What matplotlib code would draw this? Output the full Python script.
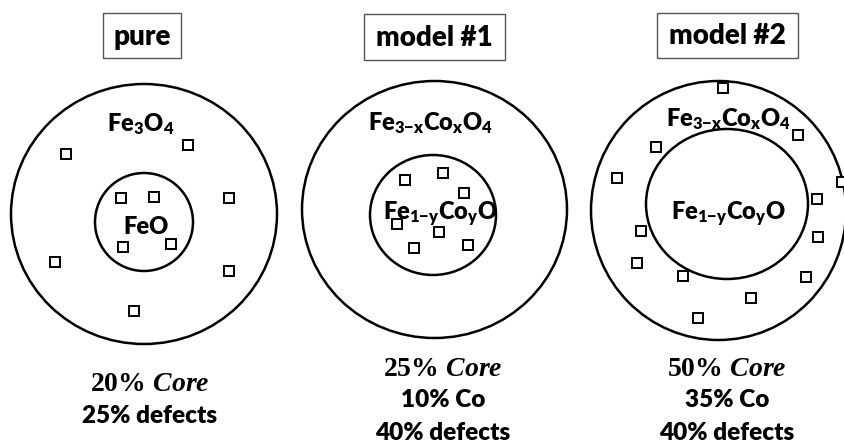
import matplotlib
matplotlib.use("Agg")
import matplotlib.pyplot as plt
from matplotlib.patches import Ellipse, Rectangle

plt.rcParams['font.family'] = ['Lato', 'DejaVu Sans']
plt.rcParams['mathtext.default'] = 'regular'
plt.rcParams['mathtext.fontset'] = 'custom'
plt.rcParams['mathtext.bf'] = 'Liberation Serif:bold'
plt.rcParams['mathtext.it'] = 'Liberation Serif:italic:bold'

# panel data
titles = ["pure", "model #1", "model #2"]
shell_labels = [r"Fe$_3$O$_4$", r"Fe$_{3{-}x}$Co$_x$O$_4$", r"Fe$_{3{-}x}$Co$_x$O$_4$"]
core_labels = ["FeO", r"Fe$_{1{-}y}$Co$_y$O", r"Fe$_{1{-}y}$Co$_y$O"]
core_pct = [20, 25, 50]
co_pct = [None, 10, 35]
defect_pct = [25, 40, 40]

# geometry in pixel coords (x, y from top)
title_boxes = [(103, 13, 78, 45), (364, 14, 141, 46), (657, 13, 141, 45)]
outer = [(144, 214, 133, 130), (434.5, 209.5, 132.5, 128.5), (718.5, 210.5, 127.5, 129.5)]
inner = [(144, 222, 49, 49), (433, 215, 63, 60), (727, 204, 81, 75)]
shell_pos = [(141, 124), (430, 123), (728, 119)]
core_pos = [(146, 227), (440, 214), (728, 214)]
text_x = [150, 443, 727]

defects_x = [
    [66, 188, 121, 154, 229, 123, 171, 55, 229, 134],
    [405, 443, 464, 397, 439, 414, 468],
    [723, 798, 656, 617, 842, 817, 641, 818, 637, 806, 683, 751, 698],
]
defects_y = [
    [154, 145, 198, 197, 198, 247, 244, 262, 271, 311],
    [180, 173, 193, 224, 232, 248, 245],
    [88, 135, 147, 178, 182, 199, 231, 237, 263, 277, 276, 298, 318],
]

fig = plt.figure(figsize=(8.45, 4.44), dpi=100)
ax = fig.add_axes([0, 0, 1, 1])
ax.set_xlim(0, 845)
ax.set_ylim(444, 0)
ax.axis('off')

for i in range(3):
    bx, by, bw, bh = title_boxes[i]
    ax.add_patch(Rectangle((bx, by), bw, bh, fill=False, ec='#555555', lw=1.0))
    ax.text(bx + bw / 2, by + bh / 2 + 1, titles[i], ha='center', va='center',
            fontsize=20, fontweight='heavy')

    cx, cy, rx, ry = outer[i]
    ax.add_patch(Ellipse((cx, cy), 2 * rx, 2 * ry, fill=False, ec='black', lw=1.8))
    cx, cy, rx, ry = inner[i]
    ax.add_patch(Ellipse((cx, cy), 2 * rx, 2 * ry, fill=False, ec='black', lw=1.8))

    ax.text(*shell_pos[i], shell_labels[i], ha='center', va='center',
            fontsize=17, fontweight='heavy')
    ax.text(*core_pos[i], core_labels[i], ha='center', va='center',
            fontsize=17, fontweight='heavy')

    ax.plot(defects_x[i], defects_y[i], 's', ms=6.6, mfc='white', mec='black',
            mew=1.4, ls='none', clip_on=False)

    lines = [r"$\mathbf{%d\%%}\ \mathit{Core}$" % core_pct[i]]
    if co_pct[i] is not None:
        lines.append("%d%% Co" % co_pct[i])
    lines.append("%d%% defects" % defect_pct[i])
    ys = [383, 416] if len(lines) == 2 else [368, 400, 433]
    sizes = [20, 17.5, 17.5]
    for t, y, s in zip(lines, ys, sizes):
        ax.text(text_x[i], y, t, ha='center', va='center', fontsize=s,
                fontweight='heavy')

fig.savefig("out.png", dpi=100)
